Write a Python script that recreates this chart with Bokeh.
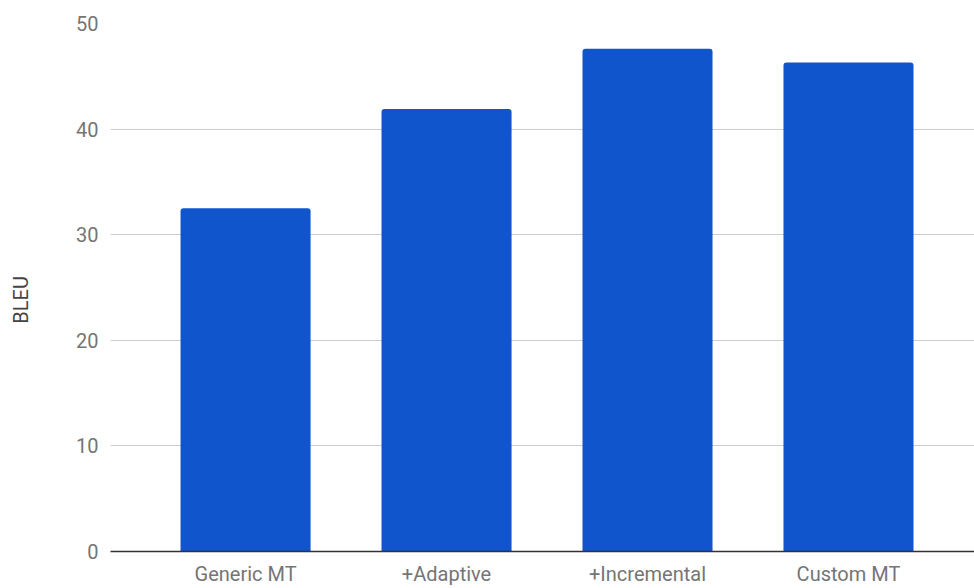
from bokeh.plotting import figure
from bokeh.models import ColumnDataSource, Range1d, FixedTicker
from bokeh.embed import file_html
from bokeh.resources import INLINE

# BLEU scores per system
systems = ["Generic MT", "+Adaptive", "+Incremental", "Custom MT"]
bleu = [32.5, 41.9, 47.6, 46.3]
y_ticks = [0, 10, 20, 30, 40, 50]
y_title = "BLEU"

positions = list(range(len(systems)))
source = ColumnDataSource(data=dict(x=positions, bleu=bleu, name=systems))

FONT = "Roboto"
TEXT_GREY = "#757575"
FONT_SIZE = "20px"

p = figure(
    width=974, height=588,
    x_range=Range1d(-0.672, 3.627), y_range=Range1d(0, 50),
    output_backend="svg", toolbar_location=None,
    min_border_left=110, min_border_right=0,
    min_border_top=23, min_border_bottom=36,
)

p.vbar(x="x", top="bleu", width=0.647, source=source,
       fill_color="#1155cc", line_color=None, border_radius=(3, 3, 0, 0))

p.outline_line_color = None
p.background_fill_color = "white"
p.border_fill_color = "white"

# horizontal gridlines only
p.xgrid.grid_line_color = None
p.ygrid.ticker = FixedTicker(ticks=y_ticks)
p.ygrid.grid_line_color = "#cccccc"
p.ygrid.grid_line_width = 1

# y axis: labels only
p.yaxis.ticker = FixedTicker(ticks=y_ticks)
p.yaxis.axis_line_color = None
p.yaxis.major_tick_line_color = None
p.yaxis.minor_tick_line_color = None
p.yaxis.major_label_standoff = 6
p.yaxis.major_label_text_font = FONT
p.yaxis.major_label_text_font_size = FONT_SIZE
p.yaxis.major_label_text_color = TEXT_GREY

# axis title; trailing no-break spaces nudge the word a little below centre
p.yaxis.axis_label = y_title + "\u00a0" * 5
p.yaxis.axis_label_text_font = FONT
p.yaxis.axis_label_text_font_size = FONT_SIZE
p.yaxis.axis_label_text_font_style = "normal"
p.yaxis.axis_label_text_color = "#444444"
p.yaxis.axis_label_standoff = 40

# x axis: baseline plus category names
p.xaxis.ticker = FixedTicker(ticks=positions)
p.xaxis.major_label_overrides = {i: s for i, s in enumerate(systems)}
p.xaxis.axis_line_color = "#333333"
p.xaxis.axis_line_width = 1.5
p.xaxis.major_tick_line_color = None
p.xaxis.minor_tick_line_color = None
p.xaxis.major_label_standoff = 4
p.xaxis.major_label_text_font = FONT
p.xaxis.major_label_text_font_size = FONT_SIZE
p.xaxis.major_label_text_color = TEXT_GREY

open("out.html", "w").write(file_html(p, INLINE))
